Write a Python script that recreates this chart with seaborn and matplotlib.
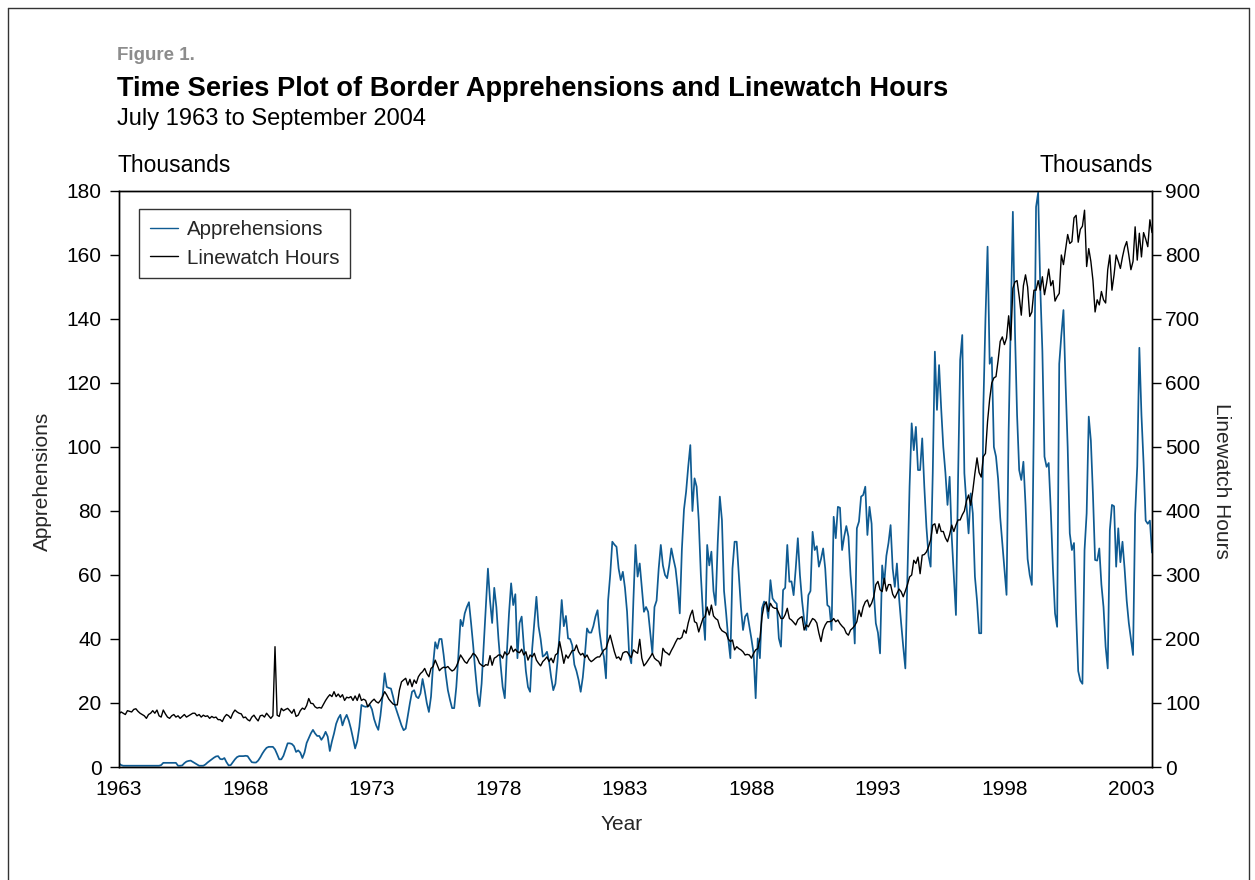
import numpy as np
import matplotlib
matplotlib.use("Agg")
import matplotlib.pyplot as plt
import seaborn as sns
from matplotlib.lines import Line2D

sns.set_theme(style="white")
plt.rcParams["font.family"] = ["Liberation Sans", "DejaVu Sans"]

# Monthly apprehensions, thousands (12 values per row, each row starts in July)
appr_1963_1972 = [
    1.1, 0.6, 0.4, 0.4, 0.4, 0.4, 0.4, 0.4, 0.4, 0.4, 0.4, 0.4,
    0.4, 0.4, 0.4, 0.4, 0.4, 0.4, 0.4, 0.4, 0.6, 1.3, 1.3, 1.3,
    1.3, 1.3, 1.3, 1.3, 0.4, 0.4, 0.5, 1.2, 1.7, 1.9, 2.0, 1.6,
    1.2, 0.8, 0.4, 0.4, 0.4, 0.8, 1.4, 1.9, 2.4, 2.9, 3.3, 3.4,
    2.5, 2.4, 2.8, 1.5, 0.5, 0.6, 1.5, 2.4, 3.1, 3.4, 3.4, 3.4,
    3.5, 3.4, 2.4, 1.5, 1.4, 1.4, 2.0, 3.0, 4.2, 5.2, 6.0, 6.3,
    6.3, 6.3, 5.5, 4.0, 2.4, 2.4, 3.5, 5.5, 7.4, 7.4, 7.2, 6.5,
    4.7, 5.2, 4.5, 2.8, 4.5, 7.5, 9.0, 10.5, 11.6, 10.5, 9.7, 9.7,
    8.5, 9.5, 11.0, 9.5, 5.0, 8.0, 10.5, 13.5, 15.2, 16.3, 13.0, 15.0,
    16.3, 14.5, 12.0, 9.0, 5.8, 8.0, 12.5, 19.4, 19.0, 18.8, 19.0, 19.4,
]
appr_1973_1982 = [
    18.0, 15.0, 13.0, 11.6, 16.0, 22.0, 29.3, 25.0, 24.7, 24.5, 22.0, 19.0,
    17.0, 15.0, 13.0, 11.5, 12.0, 16.0, 20.0, 23.5, 24.0, 22.0, 21.5, 23.0,
    27.5, 24.0, 20.0, 17.2, 22.0, 32.0, 39.0, 37.0, 40.0, 40.0, 35.0, 29.0,
    24.0, 21.0, 18.4, 18.4, 25.0, 35.0, 46.0, 44.0, 48.0, 50.0, 51.5, 45.0,
    38.0, 30.0, 23.0, 19.0, 26.0, 38.0, 50.0, 62.0, 52.0, 45.0, 56.0, 50.0,
    40.0, 32.0, 25.0, 21.5, 36.0, 48.0, 57.4, 50.6, 54.0, 34.0, 45.0, 47.0,
    38.0, 30.0, 25.0, 23.5, 37.0, 45.0, 53.2, 44.0, 40.0, 34.5, 35.0, 36.0,
    33.0, 28.0, 24.0, 26.0, 33.0, 42.0, 52.2, 44.0, 47.2, 40.2, 40.0, 38.0,
    32.0, 30.0, 27.2, 23.5, 28.0, 35.0, 43.3, 42.0, 42.0, 44.0, 47.0, 49.0,
    42.0, 37.0, 34.5, 27.7, 52.0, 60.0, 70.4, 69.5, 68.8, 62.0, 58.4, 61.0,
]
appr_1983_1992 = [
    56.0, 48.5, 35.0, 32.4, 52.0, 69.4, 59.5, 63.6, 56.0, 48.5, 50.0, 48.5,
    42.0, 35.5, 50.0, 52.0, 62.0, 69.4, 63.0, 60.0, 59.0, 63.0, 68.3, 65.0,
    62.0, 56.0, 48.0, 68.0, 80.5, 86.0, 93.8, 100.6, 80.0, 90.2, 87.6, 77.0,
    60.0, 48.0, 39.7, 69.4, 63.0, 67.3, 55.0, 50.6, 70.0, 84.5, 77.2, 55.0,
    48.0, 40.0, 34.0, 62.0, 70.4, 70.4, 60.0, 50.0, 42.8, 47.0, 48.0, 44.0,
    40.0, 35.5, 21.5, 40.2, 34.0, 49.6, 51.7, 51.0, 46.5, 58.4, 52.7, 51.7,
    51.0, 40.2, 37.6, 55.3, 56.0, 69.4, 57.9, 58.0, 53.7, 62.0, 71.5, 60.0,
    52.0, 46.0, 42.8, 53.7, 55.0, 73.5, 67.8, 69.0, 62.6, 65.0, 68.3, 62.0,
    50.6, 50.0, 42.8, 78.2, 71.5, 81.3, 81.0, 67.8, 72.0, 75.3, 72.0, 60.0,
    52.0, 38.6, 74.6, 76.7, 84.5, 85.0, 87.6, 72.5, 81.3, 76.0, 55.0, 44.9,
]
appr_1993_2004 = [
    42.0, 35.5, 63.0, 57.4, 66.0, 70.0, 75.6, 62.0, 56.3, 63.6, 53.0, 45.0,
    37.6, 30.8, 60.0, 87.6, 107.4, 99.0, 106.3, 92.8, 92.8, 102.7, 87.6, 75.0,
    66.0, 62.6, 91.8, 129.8, 111.6, 125.6, 112.0, 100.0, 92.0, 81.9, 90.7, 72.0,
    60.0, 47.5, 89.7, 127.2, 135.0, 91.8, 82.0, 73.0, 85.5, 79.3, 59.5, 52.0,
    41.8, 41.8, 112.6, 140.0, 162.6, 126.0, 128.0, 100.0, 97.0, 90.0, 78.0, 70.0,
    62.0, 53.8, 105.0, 140.0, 173.5, 136.0, 110.0, 92.8, 89.7, 95.4, 82.0, 65.0,
    60.0, 56.9, 110.0, 175.0, 179.5, 150.0, 130.0, 97.0, 93.8, 95.0, 80.0, 62.0,
    48.0, 43.8, 126.0, 135.0, 142.8, 120.0, 100.0, 73.0, 67.8, 70.0, 48.0, 30.0,
    27.0, 26.0, 67.8, 79.3, 109.5, 102.0, 85.0, 64.7, 64.5, 68.3, 57.0, 50.0,
    37.6, 30.8, 74.0, 81.9, 81.5, 62.6, 74.6, 64.0, 70.4, 62.0, 52.0, 45.0,
    40.0, 35.0, 79.0, 94.0, 131.0, 110.0, 95.0, 77.0, 76.0, 77.0, 67.0,
]

# Monthly linewatch hours, thousands (same layout)
hours_1963_1972 = [
    83, 86, 84, 82, 88, 87, 86, 90, 91, 87, 84, 82,
    80, 76, 82, 84, 88, 84, 89, 80, 78, 89, 83, 78,
    76, 80, 82, 78, 80, 76, 79, 82, 78, 80, 82, 84,
    84, 80, 82, 78, 81, 79, 80, 76, 79, 77, 78, 74,
    74, 71, 78, 82, 80, 76, 84, 89, 86, 84, 83, 77,
    78, 74, 72, 78, 81, 76, 72, 80, 81, 78, 84, 80,
    76, 80, 188, 81, 79, 91.6, 88, 90, 91.6, 88, 84, 90,
    79, 81, 88, 92, 90, 96, 107, 99.5, 99, 94, 92, 93,
    92, 98, 104, 109, 113, 110, 117.7, 110, 114, 109, 113, 104,
    109, 108, 110, 104, 111, 104, 114, 104, 106, 104, 94, 99,
]
hours_1973_1982 = [
    103, 106, 102, 100, 104, 110, 117.7, 112.5, 106, 102, 98.4, 97,
    97, 120, 133, 136, 138.6, 128, 137, 125.5, 136, 130.7, 141, 146,
    149, 154, 146, 141, 154, 157, 167, 159, 150.5, 154, 156, 155,
    157, 153, 150, 152, 157, 165, 175, 170, 164.6, 162, 168, 172,
    177.6, 175, 170, 162, 159, 157, 160, 159, 174, 159, 170, 172,
    175, 175, 170, 180, 175, 178, 189, 180, 184, 180, 178.6, 184,
    175, 180, 167, 175, 172, 177.6, 167, 162, 158, 164.6, 168, 172,
    165, 170, 163, 175, 177.6, 196, 180, 162, 175, 170, 176, 182,
    182, 190.6, 180, 175, 177.6, 171, 175, 168, 164.6, 167, 170, 172,
    172, 177.6, 183, 185, 196, 206, 193, 180, 170, 172, 167, 178,
]
hours_1983_1992 = [
    180, 180, 175, 171, 183, 180, 177.6, 199.5, 170, 158, 162, 167,
    172, 177.6, 170, 167, 165, 158, 185.4, 180, 178, 175, 182, 188,
    195, 201, 200, 202.6, 214, 209, 225, 237, 245, 227, 225, 211,
    222, 232, 235, 250, 237.5, 253, 236, 232, 229.7, 218, 213, 211,
    209, 200, 196, 198.4, 183, 188, 185, 183, 180, 175, 176, 175,
    170, 177.6, 183, 185, 200, 235, 253, 258, 243, 255.7, 250, 248,
    248, 240, 232, 232, 238, 248, 232, 229.7, 226, 222, 230, 233,
    235, 214, 222, 219, 226, 232, 230, 225, 209, 196, 214, 222,
    227, 227, 228, 232, 227, 229.7, 224, 220, 216.7, 209, 206, 214,
    217, 221, 227, 245, 235, 250, 258, 261, 250, 256, 266, 285,
]
hours_1993_2004 = [
    290, 277, 274, 295, 275, 285, 285, 270, 264, 271, 278, 274,
    266, 275, 285, 297, 300, 323, 318, 328, 302, 331, 332, 336,
    344, 355, 378, 380, 365, 380, 368, 368, 358, 352, 363, 378,
    368, 378, 386, 386, 394, 400, 416, 425, 409, 432, 459, 483,
    460, 453, 485, 490, 540, 575, 600, 608, 610, 635, 665, 672,
    660, 670, 705, 667, 748, 758, 760, 735, 706, 752, 769, 750,
    704, 711, 745, 745, 760, 745, 766, 738, 756, 778, 752, 760,
    728, 735, 740, 800, 785, 808, 832, 818, 821, 858, 862, 820,
    840, 845, 870, 782, 810, 790, 760, 711, 730, 722, 743, 730,
    725, 777, 800, 745, 769, 800, 790, 779, 797, 812, 821, 800,
    777, 790, 844, 792, 834, 797, 835, 825, 813, 855, 835,
]

year_ticks = [1963, 1968, 1973, 1978, 1983, 1988, 1993, 1998, 2003]
appr_ticks = [0, 20, 40, 60, 80, 100, 120, 140, 160, 180]
hours_ticks = [0, 100, 200, 300, 400, 500, 600, 700, 800, 900]

apprehensions = np.array(appr_1963_1972 + appr_1973_1982 + appr_1983_1992 + appr_1993_2004)
linewatch = np.array(hours_1963_1972 + hours_1973_1982 + hours_1983_1992 + hours_1993_2004)
t = 1963 + np.arange(len(apprehensions)) / 12.0

BLUE = "#0f5b92"
W, H = 1255, 880
fig = plt.figure(figsize=(W / 100, H / 100), dpi=100)
fig.patch.set_facecolor("white")


def fx(px):
    return px / W


def fy(py):
    return 1 - py / H


ax = fig.add_axes([fx(119), fy(767), (1152 - 119) / W, (767 - 191) / H])
ax2 = ax.twinx()

sns.lineplot(x=t, y=apprehensions, ax=ax, color=BLUE, linewidth=1.25,
             estimator=None, label="Apprehensions", legend=False)
sns.lineplot(x=t, y=linewatch, ax=ax2, color="black", linewidth=1.0,
             estimator=None, label="Linewatch Hours", legend=False)

ax.set_xlim(t[0], t[-1])
ax.set_ylim(0, 180)
ax2.set_ylim(0, 900)
ax.set_xticks(year_ticks)
ax.set_xticklabels([str(y) for y in year_ticks])
ax.set_yticks(appr_ticks)
ax2.set_yticks(hours_ticks)
ax.set_xlabel("")
ax.set_ylabel("")
ax2.set_ylabel("")
ax.grid(False)
ax2.grid(False)

for a in (ax, ax2):
    for s in a.spines.values():
        s.set_color("black")
        s.set_linewidth(1.0)
    a.tick_params(direction="out", length=6.5, width=1.0, colors="black",
                  labelsize=15, pad=3)
ax.tick_params(axis="y", pad=6)

handles = [Line2D([], [], color=BLUE, linewidth=1.0),
           Line2D([], [], color="black", linewidth=1.0)]
leg = ax2.legend(handles, ["Apprehensions", "Linewatch Hours"],
                 loc="upper left",
                 bbox_to_anchor=((139 - 119) / 1033, (767 - 209) / 576),
                 borderaxespad=0, fontsize=14.8, frameon=True, fancybox=False,
                 handlelength=1.36, handletextpad=0.44, borderpad=0.53,
                 labelspacing=0.47)
leg.get_frame().set_edgecolor("black")
leg.get_frame().set_linewidth(1.0)

# Heading block
fig.text(fx(117), fy(60), "Figure 1.", fontsize=13.5, fontweight="bold",
         color="#8c8c8c", va="baseline", ha="left")
fig.text(fx(117), fy(96), "Time Series Plot of Border Apprehensions and Linewatch Hours",
         fontsize=19.6, fontweight="bold", color="black", va="baseline", ha="left")
fig.text(fx(117), fy(125), "July 1963 to September 2004", fontsize=17,
         color="black", va="baseline", ha="left")
fig.text(fx(117), fy(172), "Thousands", fontsize=16.5, color="black",
         va="baseline", ha="left")
fig.text(fx(1153), fy(172), "Thousands", fontsize=16.5, color="black",
         va="baseline", ha="right")

# Axis titles
fig.text(fx(42), fy(481), "Apprehensions", fontsize=15, rotation=90,
         ha="center", va="center")
fig.text(fx(1222), fy(481), "Linewatch Hours", fontsize=15, rotation=270,
         ha="center", va="center")
fig.text(fx(622), fy(824), "Year", fontsize=15, ha="center", va="center")

# Outer frame
for xs, ys in [((8, 8), (8, 880)), ((8, 1249), (8, 8)), ((1249, 1249), (8, 880))]:
    fig.add_artist(Line2D([fx(v) for v in xs], [fy(v) for v in ys],
                          color="#333333", linewidth=1.0))

fig.savefig("out.png", dpi=100, facecolor="white")
